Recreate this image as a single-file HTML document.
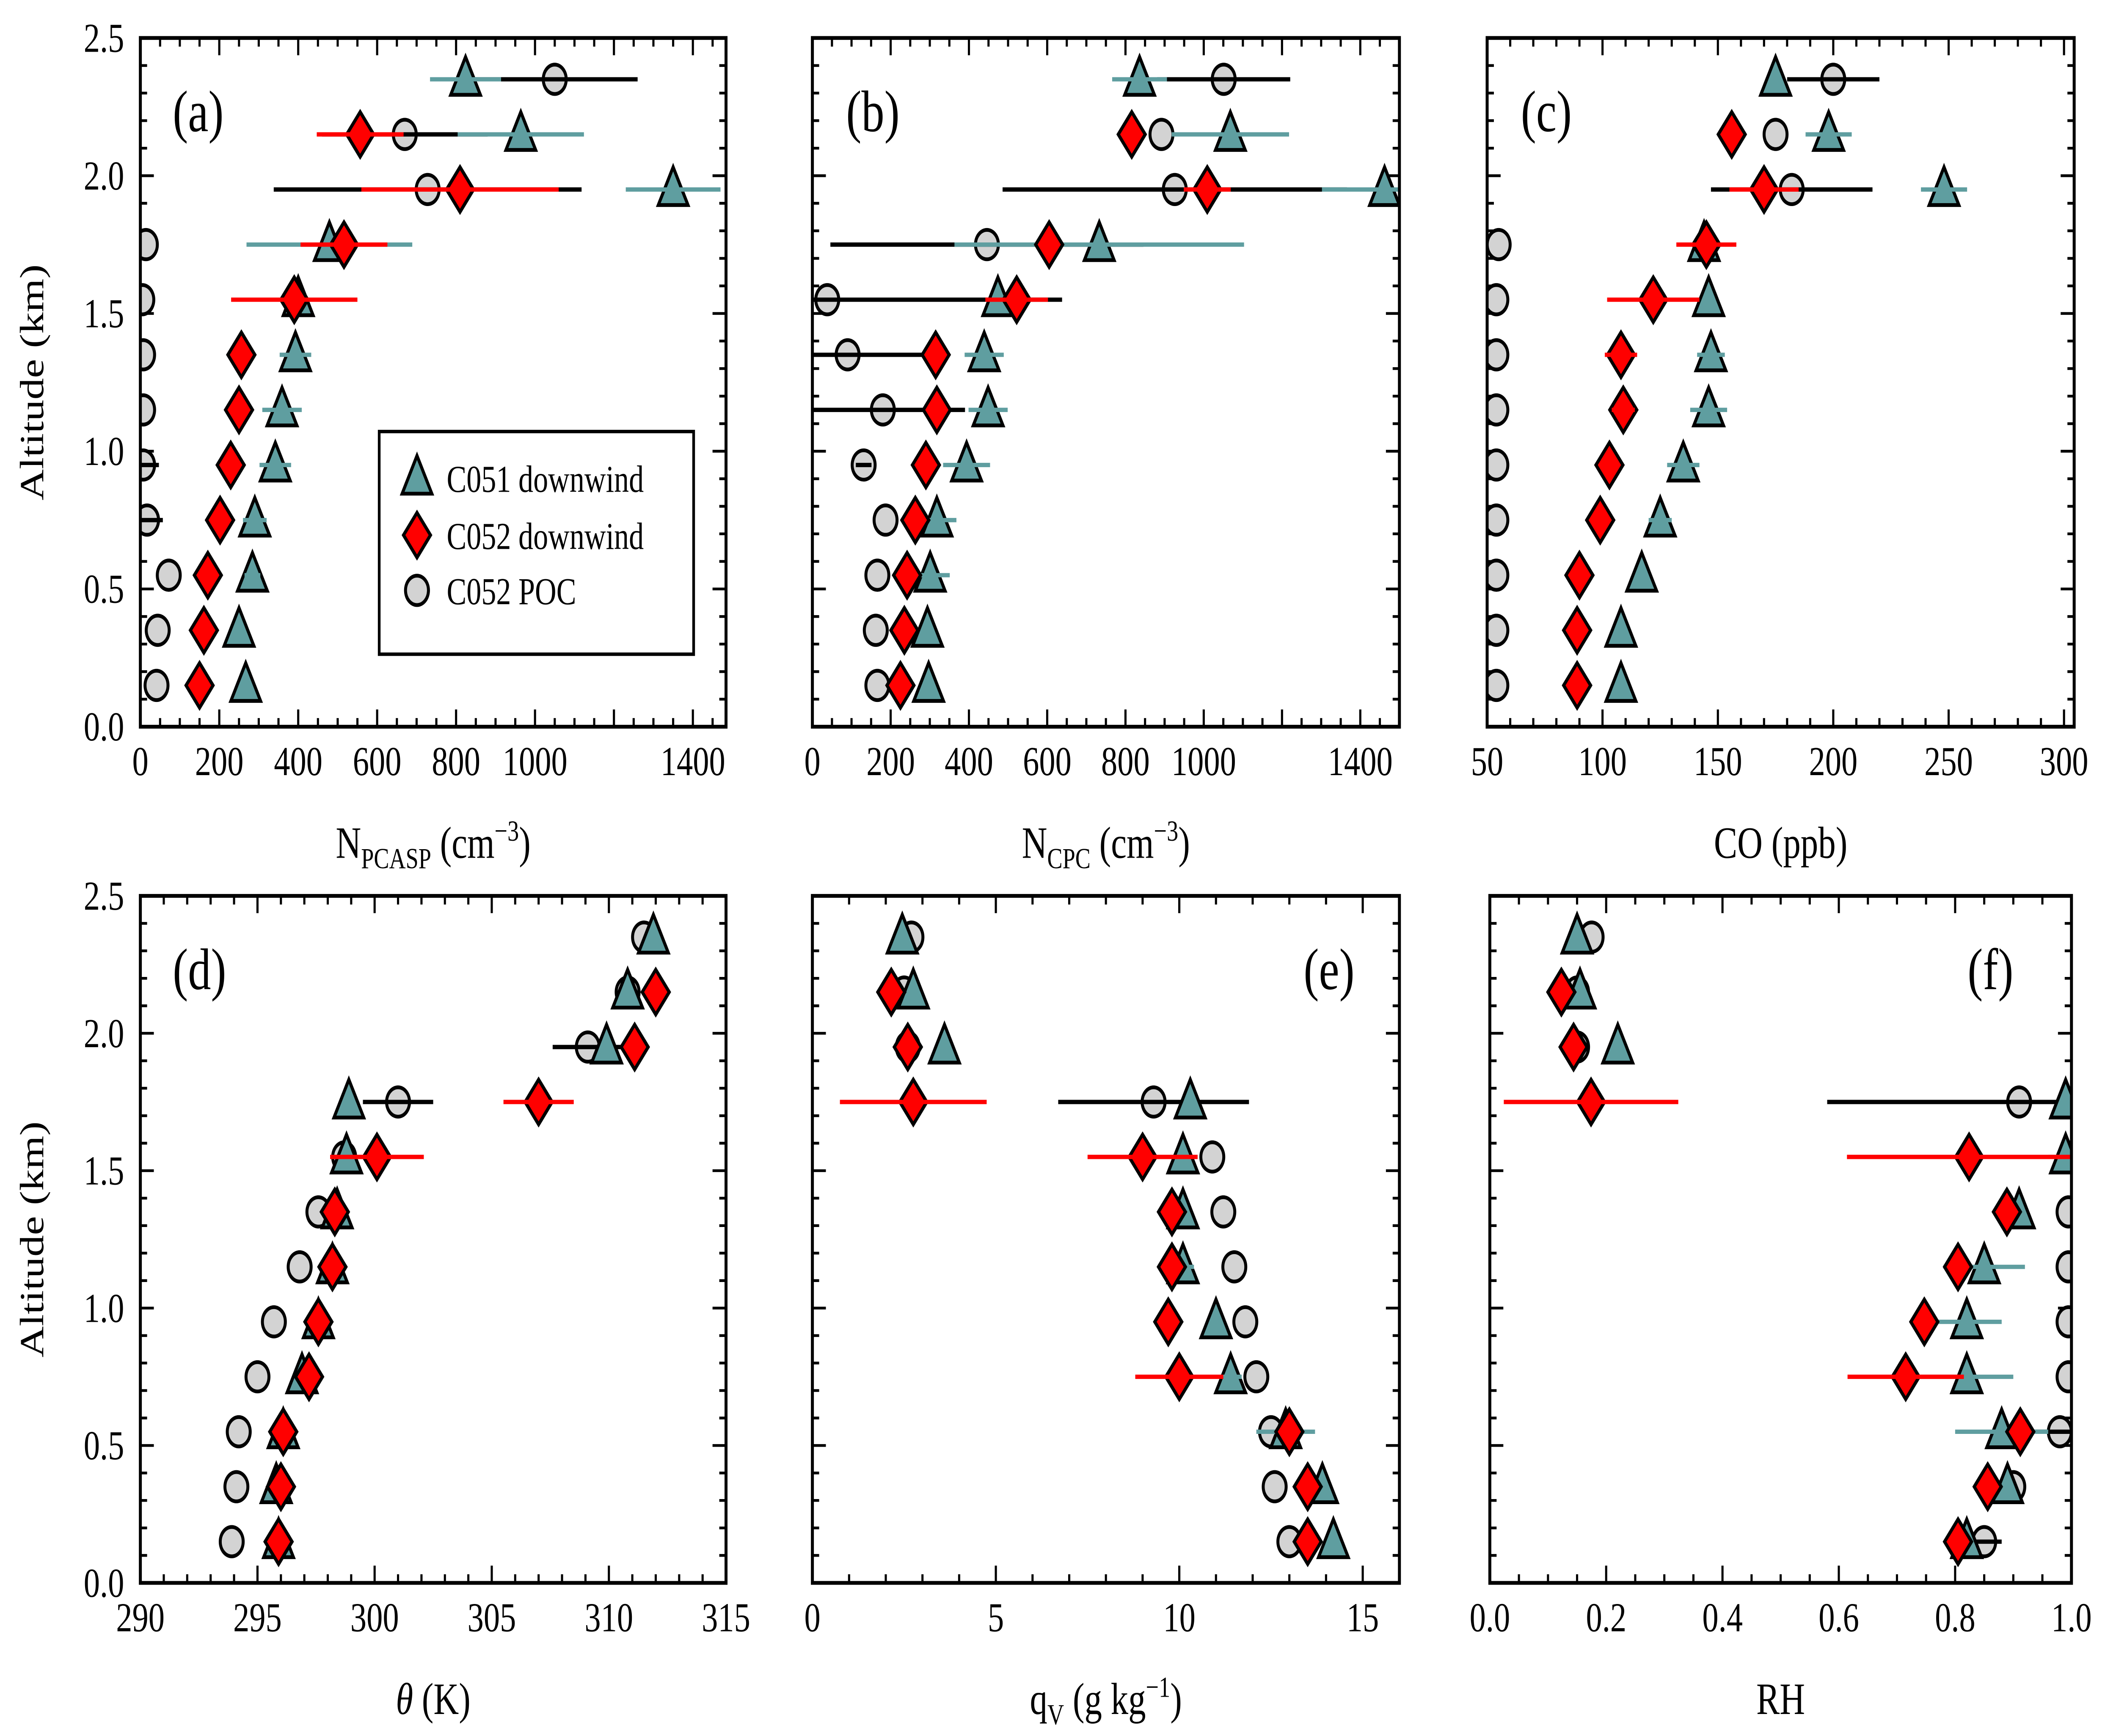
<!DOCTYPE html>
<html><head><meta charset="utf-8"><style>html,body{margin:0;padding:0;background:#fff;width:100%;height:100%;overflow:hidden}svg{display:block;width:100vw;height:100vh}</style></head>
<body>
<svg id="fig" xmlns="http://www.w3.org/2000/svg" viewBox="0 0 1568 1005.7" preserveAspectRatio="none" font-family="'Liberation Serif', serif"></svg>
<script>
const alts = [0.15,0.35,0.55,0.75,0.95,1.15,1.35,1.55,1.75,1.95,2.15,2.35];
// panel a N_PCASP
const aTri = [267,250,284,290,342,359,393,400,479,1350,964,824];
const aTriErr = [0,0,20,30,40,50,40,0,210,120,160,90];
const aDia = [150,161,171,202,229,250,256,390,516,810,557];
const aDiaErr = [0,0,0,0,0,0,0,160,110,250,110];
const aCir = [41,44,72,17,7,7,7,5,14,728,670,1050];
const aCirErr = [0,0,0,40,40,0,0,0,0,390,210,210];
// panel b N_CPC
const bTri = [297,294,301,318,394,449,439,474,733,1462,1068,836];
const bTriErr = [0,0,50,50,60,50,50,0,370,160,150,70];
const bDia = [225,235,242,263,290,318,315,522,605,1009,816];
const bDiaErr = [0,0,0,0,0,0,0,80,0,60,0];
const bCir = [166,162,166,187,131,180,90,38,446,926,892,1051];
const bCirErr = [0,0,0,0,20,210,200,600,400,440,0,170];
// panel c CO
const cTri = [108,108,117,125,135,146,147,146,144,248,198,175];
const cTriErr = [0,0,0,5,7,8,6,0,0,10,10,0];
const cDia = [89,89,90,99,103,109,108,122,145,170,156];
const cDiaErr = [0,0,0,0,0,5,7,20,13,15,0];
const cCir = [54,54,54,54,54,54,54,54,55,182,175,200];
const cCirErr = [0,0,0,0,0,0,0,0,0,35,0,20];
// panel d theta
const dTri = [295.9,295.8,296.1,296.9,297.6,298.2,298.4,298.8,298.9,309.9,310.8,311.9];
const dTriErr = [0,0,0,0,0,0,0,0,0,0,0,0];
const dDia = [295.9,296.0,296.1,297.2,297.6,298.2,298.3,300.1,307.0,311.1,312.0];
const dDiaErr = [0,0,0,0,0,0,0,2,1.5,0,0];
const dCir = [293.9,294.1,294.2,295.0,295.7,296.8,297.6,298.7,301.0,309.1,310.8,311.5];
const dCirErr = [0,0,0,0,0,0,0,0,1.5,1.5,0,0];
// panel e qv
const eTri = [14.2,13.9,12.9,11.4,11.0,10.1,10.1,10.1,10.3,3.6,2.75,2.45];
const eTriErr = [0,0,0.8,0.3,0,0.3,0,0,0,0,0,0];
const eDia = [13.5,13.5,13.0,10.0,9.7,9.8,9.8,9.0,2.75,2.6,2.15];
const eDiaErr = [0,0,0,1.2,0,0,0,1.5,2.0,0,0];
const eCir = [13.0,12.6,12.5,12.1,11.8,11.5,11.2,10.9,9.3,2.6,2.5,2.7];
const eCirErr = [0,0,0,0,0,0,0,0,2.6,0.3,0,0];
// panel f RH
const fTri = [0.82,0.89,0.88,0.82,0.82,0.85,0.91,0.99,0.99,0.22,0.155,0.15];
const fTriErr = [0,0,0.08,0.08,0.06,0.07,0,0.03,0,0,0,0];
const fDia = [0.805,0.856,0.912,0.715,0.747,0.805,0.889,0.824,0.174,0.144,0.123];
const fDiaErr = [0,0,0,0.1,0,0,0,0.21,0.15,0,0];
const fCir = [0.85,0.9,0.98,0.995,0.995,0.995,0.995,1.0,0.91,0.15,0.15,0.175];
const fCirErr = [0.03,0,0.05,0,0,0,0,0,0.33,0,0,0];

const NS='http://www.w3.org/2000/svg';
const svg=document.getElementById('fig');
function el(tag,attrs,parent,text){const e=document.createElementNS(NS,tag);for(const k in attrs)e.setAttribute(k,attrs[k]);if(text!==undefined)e.textContent=text;(parent||svg).appendChild(e);return e;}
const TEAL='#5f9ea0';

function panel(p){
  const g=el('g',{});
  
  
  const X=v=>p.x0+(v-p.xmin)/(p.xmax-p.xmin)*(p.x1-p.x0);
  const Y=a=>p.y0-a/2.5*(p.y0-p.y1);
  const tk=el('g',{stroke:'#000','stroke-width':1.6},g);
  
  
  const nMin=Math.round((p.xmax-p.xmin)/p.minor);
  for(let i=0;i<=nMin;i++){const v=p.xmin+i*p.minor;if(v>p.xmax+1e-9)break;const major=Math.abs((v-p.tick0)/p.major-Math.round((v-p.tick0)/p.major))<1e-6;const L=major?10:5;const x=X(v);
    el('line',{x1:x,x2:x,y1:p.y0,y2:p.y0-L},tk);el('line',{x1:x,x2:x,y1:p.y1,y2:p.y1+L},tk);}
  const tky=el('g',{stroke:'#000','stroke-width':1.6},g);
  
  
  for(let i=0;i<=25;i++){const a=i/10;const L=(i%5===0)?10:5;const y=Y(a);
    el('line',{x1:p.x0,x2:p.x0+L,y1:y,y2:y},tky);el('line',{x1:p.x1,x2:p.x1-L,y1:y,y2:y},tky);}
  for(const v of p.labels){const t=el('text',{x:X(v),y:p.y0+28,'text-anchor':'middle','font-size':24},g,p.fmt?p.fmt(v):String(v));
    
    }
  if(p.ylab){for(let i=0;i<=5;i++){const a=i*0.5;const t=el('text',{x:p.x0-12,y:Y(a)+8,'text-anchor':'end','font-size':24},g,a.toFixed(1));
      
      }
    const yt=el('text',{x:0,y:0,'text-anchor':'middle','font-size':25,transform:`translate(32,${(p.y0+p.y1)/2}) rotate(-90)`},g,'Altitude (km)');
    
    }
  const clipId='clip'+p.id;
  const cp=el('clipPath',{id:clipId},g);el('rect',{x:p.x0,y:p.y1,width:p.x1-p.x0,height:p.y0-p.y1},cp);
  const dg=el('g',{'clip-path':`url(#${clipId})`},g);
  
  
  const ser=(vals,errs,color,kind,ec)=>{
    const sg=el('g',{},dg);
    
    
    vals.forEach((v,i)=>{const x=X(v),y=Y(alts[i]);
      let m;
      if(kind==='triangle')m=el('polygon',{points:`${x},${y-13} ${x-11},${y+9} ${x+11},${y+9}`,fill:color,stroke:'#000','stroke-width':2.2},sg);
      else if(kind==='diamond')m=el('polygon',{points:`${x},${y-13} ${x+10},${y} ${x},${y+13} ${x-10},${y}`,fill:color,stroke:'#000','stroke-width':2.2},sg);
      else m=el('circle',{cx:x,cy:y,r:8.5,fill:color,stroke:'#000','stroke-width':2.2},sg);
      
      
    });
    vals.forEach((v,i)=>{const e=errs[i];if(!e)return;const y=Y(alts[i]);
      const l=el('line',{x1:Math.max(p.x0,X(v-e)),x2:Math.min(p.x1,X(v+e)),y1:y,y2:y,stroke:ec,'stroke-width':2.5},sg);
      
      });
  };
  ser(p.cir,p.cirErr,'#d3d3d3','circle','#000');
  ser(p.tri,p.triErr,TEAL,'triangle',TEAL);
  ser(p.dia,p.diaErr,'#ff0000','diamond','#ff0000');
  const fr=el('rect',{x:p.x0,y:p.y1,width:p.x1-p.x0,height:p.y0-p.y1,fill:'none',stroke:'#000','stroke-width':2.2},g);
  
  
  const lt=el('text',{x:p.lx,y:p.ly,'font-size':34},g,'('+p.id+')');
  
  
  const xt=el('text',{x:(p.x0+p.x1)/2,y:p.y0+76,'text-anchor':'middle','font-size':26},g);
  xt.innerHTML=p.title;
  
  
}
const top0=421,top1=22,bot0=917,bot1=519;
panel({id:'a',x0:104,x1:538,y0:top0,y1:top1,xmin:0,xmax:1484,minor:50,major:200,tick0:0,labels:[0,200,400,600,800,1000,1400],ylab:true,tri:aTri,triErr:aTriErr,dia:aDia,diaErr:aDiaErr,cir:aCir,cirErr:aCirErr,lx:128,ly:76,
  title:'N<tspan font-size="17" dy="6">PCASP</tspan><tspan dy="-6"> (cm</tspan><tspan font-size="17" dy="-10">−3</tspan><tspan dy="10">)</tspan>'});
panel({id:'b',x0:602,x1:1037,y0:top0,y1:top1,xmin:0,xmax:1500,minor:50,major:200,tick0:0,labels:[0,200,400,600,800,1000,1400],tri:bTri,triErr:bTriErr,dia:bDia,diaErr:bDiaErr,cir:bCir,cirErr:bCirErr,lx:627,ly:76,
  title:'N<tspan font-size="17" dy="6">CPC</tspan><tspan dy="-6"> (cm</tspan><tspan font-size="17" dy="-10">−3</tspan><tspan dy="10">)</tspan>'});
panel({id:'c',x0:1102,x1:1537,y0:top0,y1:top1,xmin:50,xmax:304.4,minor:10,major:50,tick0:50,labels:[50,100,150,200,250,300],tri:cTri,triErr:cTriErr,dia:cDia,diaErr:cDiaErr,cir:cCir,cirErr:cCirErr,lx:1127,ly:76,title:'CO (ppb)'});
panel({id:'d',x0:104,x1:538,y0:bot0,y1:bot1,xmin:290,xmax:315,minor:1,major:5,tick0:290,labels:[290,295,300,305,310,315],ylab:true,tri:dTri,triErr:dTriErr,dia:dDia,diaErr:dDiaErr,cir:dCir,cirErr:dCirErr,lx:128,ly:573,title:'<tspan font-style="italic">θ</tspan> (K)'});
panel({id:'e',x0:602,x1:1037,y0:bot0,y1:bot1,xmin:0,xmax:16,minor:1,major:5,tick0:0,labels:[0,5,10,15],tri:eTri,triErr:eTriErr,dia:eDia,diaErr:eDiaErr,cir:eCir,cirErr:eCirErr,lx:966,ly:573,
  title:'q<tspan font-size="17" dy="6">V</tspan><tspan dy="-6"> (g kg</tspan><tspan font-size="17" dy="-10">−1</tspan><tspan dy="10">)</tspan>'});
panel({id:'f',x0:1104,x1:1535,y0:bot0,y1:bot1,xmin:0,xmax:1,minor:0.05,major:0.2,tick0:0,labels:[0,0.2,0.4,0.6,0.8,1.0],fmt:v=>v.toFixed(1),tri:fTri,triErr:fTriErr,dia:fDia,diaErr:fDiaErr,cir:fCir,cirErr:fCirErr,lx:1458,ly:573,title:'RH'});

const lg=el('g',{});


el('rect',{x:281,y:250,width:233,height:129,fill:'#fff',stroke:'#000','stroke-width':2},lg);
const items=[['C051 downwind','triangle',277],['C052 downwind','diamond',310],['C052 POC','circle',342]];
items.forEach(([t,k,y])=>{const x=309;let m;
  if(k==='triangle')m=el('polygon',{points:`${x},${y-13} ${x-11},${y+9} ${x+11},${y+9}`,fill:TEAL,stroke:'#000','stroke-width':2.2},lg);
  else if(k==='diamond')m=el('polygon',{points:`${x},${y-13} ${x+10},${y} ${x},${y+13} ${x-10},${y}`,fill:'#ff0000',stroke:'#000','stroke-width':2.2},lg);
  else m=el('circle',{cx:x,cy:y,r:8.5,fill:'#d3d3d3',stroke:'#000','stroke-width':2.2},lg);
  
  
  const tx=el('text',{x:331,y:y+8,'font-size':22},lg,t);
  
  
});
</script>
</body></html>
